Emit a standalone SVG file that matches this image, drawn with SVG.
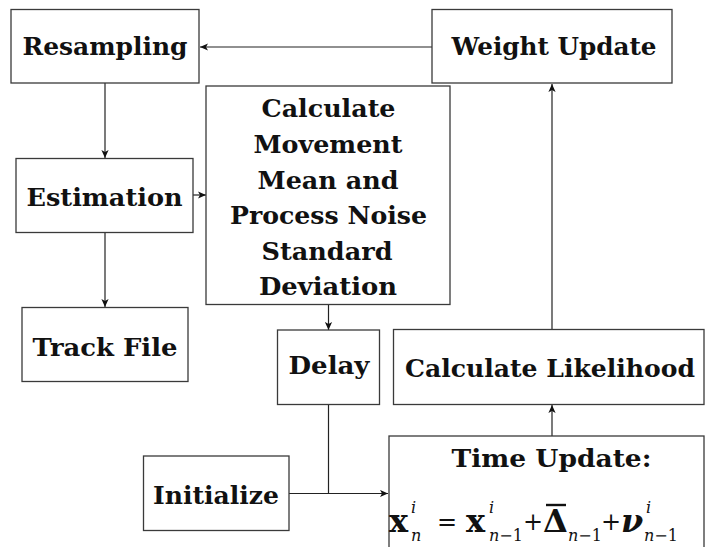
<svg xmlns="http://www.w3.org/2000/svg" width="705" height="547" viewBox="0 0 705 547">
  <style>
    .box { fill: #ffffff; stroke: #3a3a3a; stroke-width: 1.3; }
    .lbl { font-family: "DejaVu Serif", "Liberation Serif", serif; font-weight: bold; font-size: 25px; fill: #111111; text-anchor: middle; }
    .edge { fill: none; stroke: #222222; stroke-width: 1.2; }
    .m { font-family: "DejaVu Serif", "Liberation Serif", serif; fill: #111111; }
    .mb { font-weight: bold; font-size: 32px; }
    .mr { font-weight: normal; font-size: 24px; }
    .ms { font-size: 16px; }
  </style>
  <defs>
    <marker id="arrow" viewBox="0 0 10 10" refX="10" refY="5" markerWidth="8" markerHeight="8" markerUnits="userSpaceOnUse" orient="auto">
      <path d="M0,0.5 L10,5 L0,9.5 L2.5,5 Z" fill="#111111"/>
    </marker>
  </defs>
  <rect width="705" height="547" fill="#ffffff"/>

  <!-- connectors -->
  <g id="connectors">
    <line class="edge" x1="432" y1="47" x2="200" y2="47" marker-end="url(#arrow)"/>
    <line class="edge" x1="105" y1="83" x2="105" y2="158" marker-end="url(#arrow)"/>
    <line class="edge" x1="105" y1="232" x2="105" y2="307" marker-end="url(#arrow)"/>
    <line class="edge" x1="193" y1="195" x2="206" y2="195" marker-end="url(#arrow)"/>
    <line class="edge" x1="328.5" y1="304" x2="328.5" y2="330" marker-end="url(#arrow)"/>
    <polyline class="edge" points="328.5,404 328.5,493.5"/>
    <line class="edge" x1="289" y1="493.5" x2="388" y2="493.5" marker-end="url(#arrow)"/>
    <line class="edge" x1="552" y1="436" x2="552" y2="405" marker-end="url(#arrow)"/>
    <line class="edge" x1="552" y1="329" x2="552" y2="84" marker-end="url(#arrow)"/>
  </g>

  <g id="resampling">
    <rect class="box" x="11" y="9.5" width="188" height="73.5"/>
    <text class="lbl" x="105" y="54.5" textLength="165" lengthAdjust="spacingAndGlyphs">Resampling</text>
  </g>

  <g id="weight-update">
    <rect class="box" x="432" y="9.5" width="240" height="73.5"/>
    <text class="lbl" x="554" y="54.5" textLength="205" lengthAdjust="spacingAndGlyphs">Weight Update</text>
  </g>

  <g id="estimation">
    <rect class="box" x="16" y="158.5" width="177" height="74"/>
    <text class="lbl" x="104.5" y="205.5" textLength="156" lengthAdjust="spacingAndGlyphs">Estimation</text>
  </g>

  <g id="movement-params">
    <rect class="box" x="206" y="86" width="244" height="218.5"/>
    <text class="lbl" x="328.5" y="116.5" textLength="134" lengthAdjust="spacingAndGlyphs">Calculate</text>
    <text class="lbl" x="328" y="152.5" textLength="149" lengthAdjust="spacingAndGlyphs">Movement</text>
    <text class="lbl" x="328" y="188.5" textLength="141" lengthAdjust="spacingAndGlyphs">Mean and</text>
    <text class="lbl" x="328.5" y="224" textLength="197" lengthAdjust="spacingAndGlyphs">Process Noise</text>
    <text class="lbl" x="327" y="260" textLength="131" lengthAdjust="spacingAndGlyphs">Standard</text>
    <text class="lbl" x="328" y="295" textLength="138" lengthAdjust="spacingAndGlyphs">Deviation</text>
  </g>

  <g id="track-file">
    <rect class="box" x="22" y="307.5" width="166" height="74"/>
    <text class="lbl" x="105" y="356" textLength="145" lengthAdjust="spacingAndGlyphs">Track File</text>
  </g>

  <g id="delay">
    <rect class="box" x="277.5" y="330" width="102" height="74.5"/>
    <text class="lbl" x="329" y="373.5" textLength="81" lengthAdjust="spacingAndGlyphs">Delay</text>
  </g>

  <g id="likelihood">
    <rect class="box" x="393.5" y="329.5" width="310.5" height="75"/>
    <text class="lbl" x="550" y="376.5" textLength="290" lengthAdjust="spacingAndGlyphs">Calculate Likelihood</text>
  </g>

  <g id="initialize">
    <rect class="box" x="143.5" y="456" width="145.5" height="74.5"/>
    <text class="lbl" x="216" y="504" textLength="126" lengthAdjust="spacingAndGlyphs">Initialize</text>
  </g>

  <g id="time-update">
    <rect class="box" x="389" y="436" width="315" height="130"/>
    <text class="lbl" x="551.5" y="466.5" textLength="200" lengthAdjust="spacingAndGlyphs">Time Update:</text>
    <!-- x_n^i = x_{n-1}^i + bar(Delta)_{n-1} + nu_{n-1}^i -->
    <g class="m">
      <text class="mb" x="389" y="532">x</text>
      <text class="ms" x="411" y="513" font-style="italic">i</text>
      <text class="ms" x="411" y="541" font-style="italic">n</text>
      <text class="mr" x="437" y="530">=</text>
      <text class="mb" x="466" y="532">x</text>
      <text class="ms" x="489" y="513" font-style="italic">i</text>
      <text class="ms" x="489" y="541"><tspan font-style="italic">n</tspan>−1</text>
      <text class="mr" x="523" y="530">+</text>
      <text class="mb" x="543" y="532">Δ</text>
      <line x1="546" y1="505" x2="566" y2="505" stroke="#111111" stroke-width="2.4"/>
      <text class="ms" x="568" y="541"><tspan font-style="italic">n</tspan>−1</text>
      <text class="mr" x="601" y="530">+</text>
      <text class="mb" x="621" y="532" font-style="italic">ν</text>
      <text class="ms" x="646" y="513" font-style="italic">i</text>
      <text class="ms" x="644" y="541"><tspan font-style="italic">n</tspan>−1</text>
    </g>
  </g>
</svg>
